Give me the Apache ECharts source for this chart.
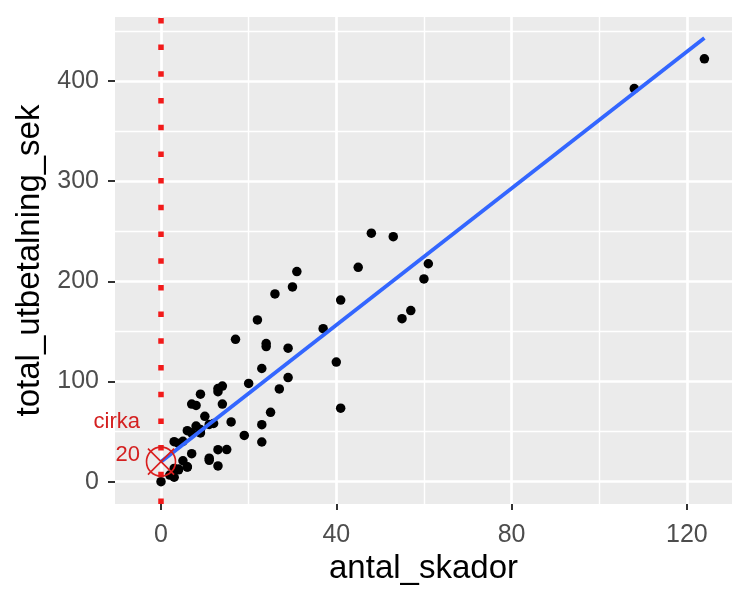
<!DOCTYPE html>
<html lang="sv">
<head>
<meta charset="UTF-8">
<title>antal_skador / total_utbetalning_sek</title>
<script src="https://cdn.jsdelivr.net/npm/echarts@6.0.0/dist/echarts.min.js"></script>
<style>
  html, body { margin: 0; padding: 0; background: #fff; }
  #main { width: 750px; height: 600px; }
</style>
</head>
<body>
<div id="main"></div>
<script>
// antal skador (x) och total utbetalning, tusen SEK (y)
var skador = [108, 19, 13, 124, 40, 57, 23, 14, 45, 10, 5, 48, 11, 23, 7, 2, 24, 6, 3, 23,
  6, 9, 9, 3, 29, 7, 4, 20, 7, 4, 0, 25, 6, 5, 22, 11, 61, 12, 4, 16, 13, 60, 41, 37, 55,
  41, 11, 27, 8, 3, 17, 13, 13, 15, 8, 29, 30, 24, 9, 31, 14, 53, 26];
var utbetalning = [392.5, 46.2, 15.7, 422.2, 119.4, 170.9, 56.9, 77.5, 214, 65.3, 20.9, 248.1,
  23.5, 39.6, 48.8, 6.6, 134.9, 50.9, 4.4, 113, 14.8, 48.7, 52.1, 13.2, 103.9, 77.5, 11.8,
  98.1, 27.9, 38.1, 0, 69.2, 14.6, 40.3, 161.5, 57.2, 217.6, 58.1, 12.6, 59.6, 89.9, 202.4,
  181.3, 152.8, 162.8, 73.4, 21.3, 92.6, 76.1, 39.9, 142.1, 93, 31.9, 32.1, 55.6, 133.3,
  194.5, 137.9, 87.4, 209.8, 95.5, 244.6, 187.5];

// regressionslinjen, ändpunkter avlästa i bilden
var linjeX = [0, 124];
var linjeY = [20, 443];

// markering "cirka 20" vid x = 0
var markX = [0];
var markY = [20];
var markText = ['cirka', '20'];
var vlinjeX = 0;

// axlar
var xTicks = [0, 40, 80, 120];
var xMinor = [20, 60, 100];
var yTicks = [0, 100, 200, 300, 400];
var yMinor = [50, 150, 250, 350, 450];

var font = "'Liberation Sans', Arial, Helvetica, sans-serif";

var punkter = skador.map(function (x, i) { return [x, utbetalning[i]]; });
var linje = linjeX.map(function (x, i) { return [x, linjeY[i]]; });
var mark = markX.map(function (x, i) { return [x, markY[i]]; });

// rutnätslinjer (vita) som markLine
var gridLines = [];
xMinor.forEach(function (v) { gridLines.push({ xAxis: v, lineStyle: { width: 1.4 } }); });
yMinor.forEach(function (v) { gridLines.push({ yAxis: v, lineStyle: { width: 1.4 } }); });
xTicks.forEach(function (v) { gridLines.push({ xAxis: v, lineStyle: { width: 2.7 } }); });
yTicks.forEach(function (v) { gridLines.push({ yAxis: v, lineStyle: { width: 2.7 } }); });

var myChart = echarts.init(document.getElementById('main'));

var option = {
  animation: false,
  textStyle: { fontFamily: font },
  grid: {
    left: 115, right: 18, top: 17, bottom: 96,
    show: true, backgroundColor: '#EBEBEB', borderWidth: 0,
    containLabel: false, outerBoundsMode: 'none'
  },
  xAxis: {
    type: 'value',
    min: -10.5, max: 130.3,
    name: 'antal_skador',
    nameLocation: 'middle',
    nameGap: 46,
    nameTextStyle: { fontSize: 33, color: '#000', fontFamily: font },
    axisLine: { show: false, onZero: false },
    axisTick: { show: true, customValues: xTicks, length: 6, lineStyle: { color: '#333', width: 2 } },
    axisLabel: { customValues: xTicks, color: '#4D4D4D', fontSize: 25, margin: 19, fontFamily: font },
    splitLine: { show: false }
  },
  yAxis: {
    type: 'value',
    min: -22.3, max: 464,
    name: 'total_utbetalning_sek',
    nameLocation: 'middle',
    nameRotate: 90,
    nameGap: 58,
    nameTextStyle: { fontSize: 33, color: '#000', fontFamily: font },
    axisLine: { show: false, onZero: false },
    axisTick: { show: true, customValues: yTicks, length: 7, lineStyle: { color: '#333', width: 2 } },
    axisLabel: { customValues: yTicks, color: '#4D4D4D', fontSize: 25, margin: 16, fontFamily: font },
    splitLine: { show: false }
  },
  series: [
    {
      // bara rutnät
      type: 'scatter',
      data: [],
      silent: true,
      z: 1,
      markLine: {
        z: 1,
        silent: true,
        symbol: 'none',
        label: { show: false },
        lineStyle: { color: '#FFFFFF', type: 'solid' },
        emphasis: { disabled: true },
        data: gridLines
      }
    },
    {
      name: 'punkter',
      type: 'scatter',
      data: punkter,
      symbolSize: 9.5,
      itemStyle: { color: '#000', opacity: 1 },
      z: 2
    },
    {
      name: 'lm',
      type: 'line',
      data: linje,
      showSymbol: false,
      lineStyle: { color: '#3366FF', width: 3.8 },
      z: 3,
      markLine: {
        z: 4,
        silent: true,
        symbol: 'none',
        label: { show: false },
        emphasis: { disabled: true },
        lineStyle: { color: '#F21A1A', width: 5.5, type: [5.5, 21.2], cap: 'butt', opacity: 1 },
        data: [{ xAxis: vlinjeX }]
      }
    },
    {
      name: 'cirka',
      type: 'scatter',
      data: mark,
      z: 6,
      symbol: 'path://M-10,0A10,10,0,1,1,10,0A10,10,0,1,1,-10,0ZM-9,-9L9,9M-9,9L9,-9',
      symbolSize: 29,
      itemStyle: { color: 'none', borderColor: '#D91E1E', borderWidth: 1.6, opacity: 1 },
      label: {
        show: true,
        position: 'left',
        distance: 4,
        offset: [0, -23],
        formatter: markText.join('\n'),
        align: 'right',
        fontSize: 22,
        lineHeight: 33,
        color: '#D42020',
        fontFamily: font
      }
    }
  ]
};

myChart.setOption(option);
</script>
</body>
</html>
